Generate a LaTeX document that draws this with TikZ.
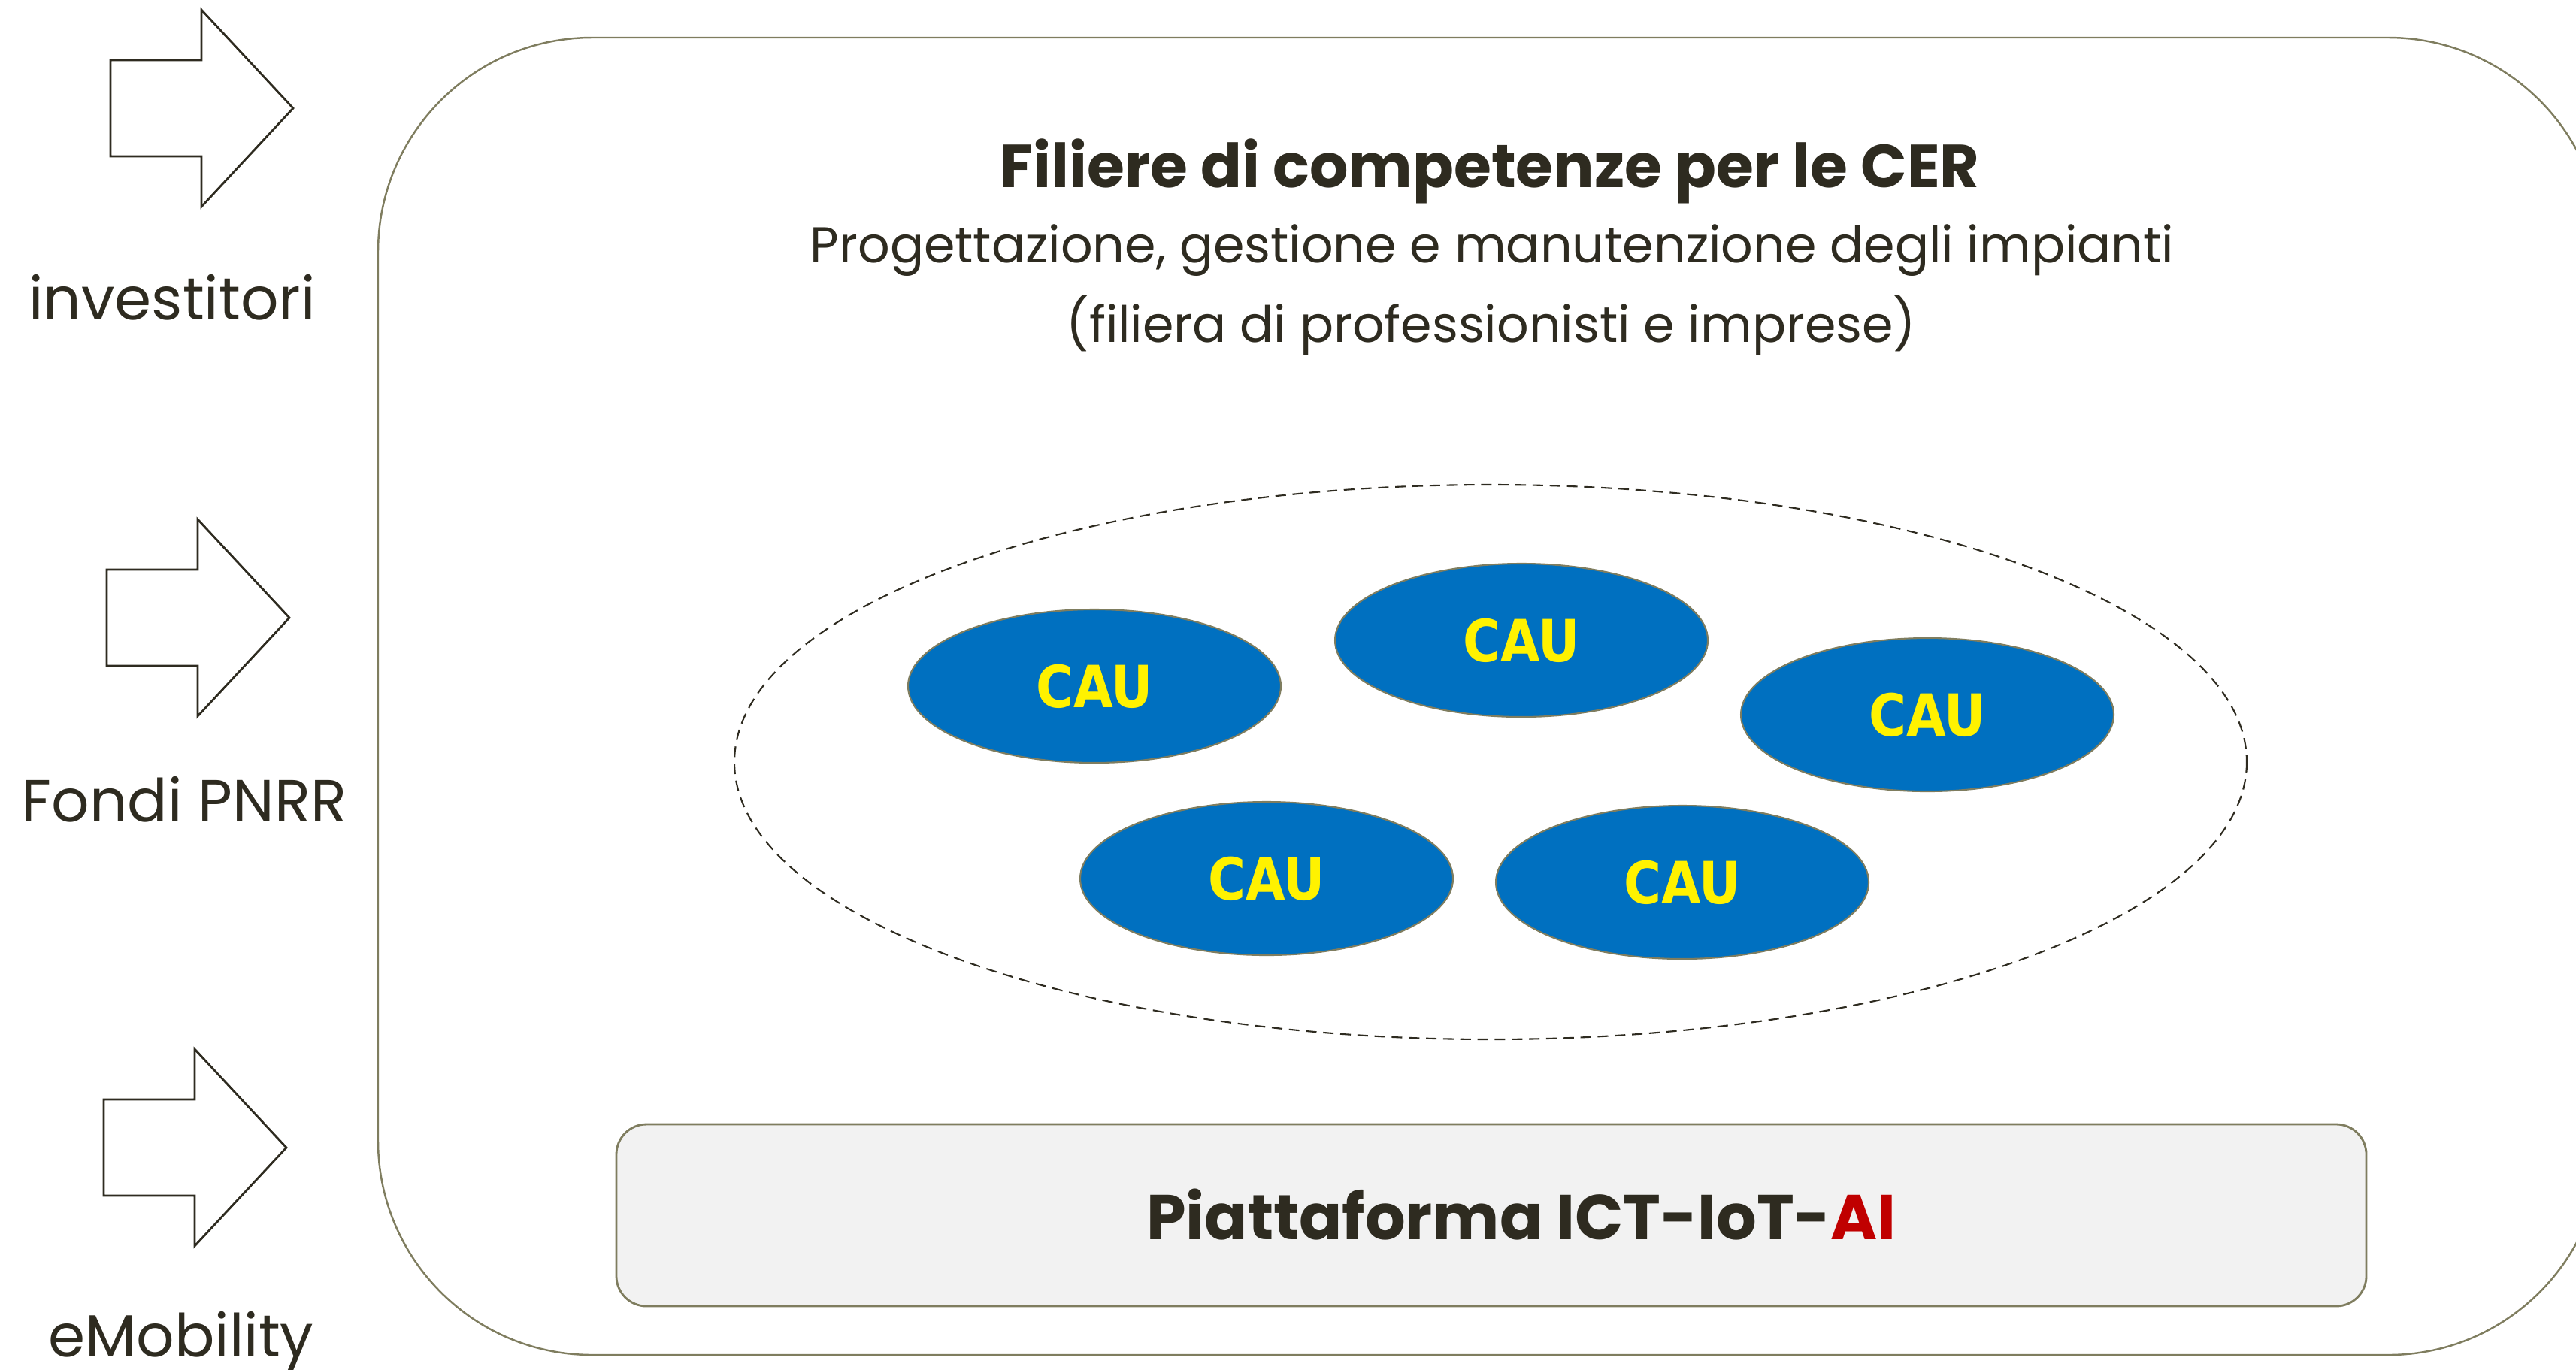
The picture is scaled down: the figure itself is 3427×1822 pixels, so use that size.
\documentclass[tikz,border=0pt]{standalone}
\usepackage{fontspec}
\setmainfont{Poppins}
\newfontfamily\caufont{DejaVu Sans}[FakeStretch=0.88]
\usetikzlibrary{shapes.geometric}
\definecolor{txt}{HTML}{2E2B20}
\definecolor{olive}{HTML}{7F7D5F}
\definecolor{caublue}{HTML}{0070C0}
\definecolor{platgray}{HTML}{F2F2F2}
\definecolor{aired}{HTML}{C00000}
\tikzset{
  blockarrow/.style={draw=txt, line width=0.8pt, line join=miter},
  sidelabel/.style={text=txt, font=\fontsize{22.5}{27}\selectfont, inner sep=0pt},
  cauell/.style={olive, line width=0.6pt, fill=caublue},
  cautext/.style={text=yellow, font=\caufont\bfseries\fontsize{22}{26}\selectfont}
}
\begin{document}
\begin{tikzpicture}[x=0.1mm, y=-0.1mm]
  \useasboundingbox (0,0) rectangle (3427,1822);

  % outer frame (cut at the right edge)
  \draw[olive, line width=0.7pt, rounded corners=28.5mm] (503,50) rectangle (3462,1803);

  % input arrows
  \foreach \x/\y in {147/144, 142/822, 138/1527}
    \draw[blockarrow] (\x,\y-64) -- (\x+121,\y-64) -- (\x+121,\y-131) -- (\x+243,\y)
      -- (\x+121,\y+131) -- (\x+121,\y+64) -- (\x,\y+64) -- cycle;

  \node[sidelabel, anchor=base] (investitori) at (229,425) {investitori};
  \node[sidelabel, anchor=base] (pnrr) at (245,1093) {Fondi PNRR};
  \node[sidelabel, anchor=base] (emob) at (241,1805) {eMobility};

  % titles
  \node[text=txt, anchor=base, inner sep=0pt, font=\bfseries\fontsize{23}{28}\selectfont] (title) at (1982,249) {Filiere di competenze per le CER};
  \node[text=txt, anchor=base, inner sep=0pt, font=\fontsize{19}{23}\selectfont] (sub1) at (1985,349) {Progettazione, gestione e manutenzione degli impianti};
  \node[text=txt, anchor=base, inner sep=0pt, font=\fontsize{19}{23}\selectfont] (sub2) at (1984,455) {(filiera di professionisti e imprese)};

  % CAU group
  \draw[txt, line width=0.6pt, dash pattern=on 4pt off 2.5pt] (1983,1014) ellipse [x radius=1006, y radius=369];
  \draw[cauell] (1456,913) ellipse [x radius=248, y radius=102];
  \draw[cauell] (2024,852) ellipse [x radius=248, y radius=102];
  \draw[cauell] (2564,951) ellipse [x radius=248, y radius=102];
  \draw[cauell] (1685,1169) ellipse [x radius=248, y radius=102];
  \draw[cauell] (2238,1174) ellipse [x radius=248, y radius=102];
  \node[cautext] (cau1) at (1456,913) {CAU};
  \node[cautext] (cau2) at (2024,852) {CAU};
  \node[cautext] (cau3) at (2564,951) {CAU};
  \node[cautext] (cau4) at (1685,1169) {CAU};
  \node[cautext] (cau5) at (2238,1174) {CAU};

  % platform
  \draw[olive, line width=0.8pt, fill=platgray, rounded corners=4mm] (820,1496) rectangle (3148,1738);
  \node[text=txt, anchor=base, inner sep=0pt, font=\bfseries\fontsize{24}{29}\selectfont] (plat) at (2024,1649) {Piattaforma ICT-IoT-\textcolor{aired}{AI}};
\end{tikzpicture}
\end{document}
